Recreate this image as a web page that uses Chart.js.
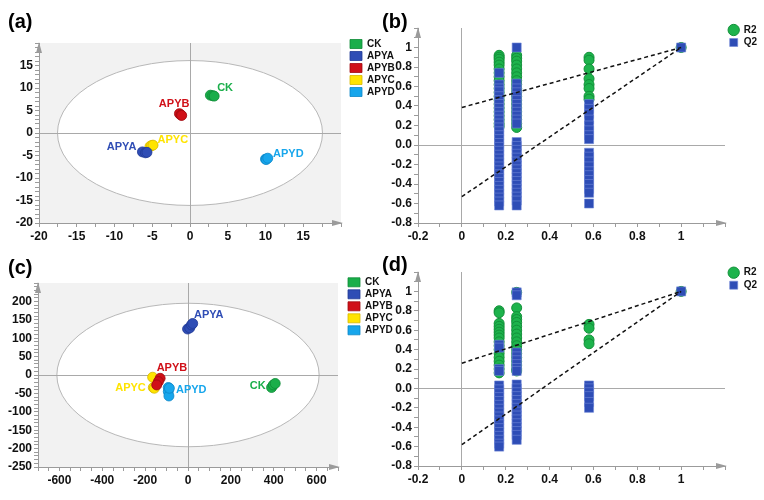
<!DOCTYPE html>
<html><head><meta charset="utf-8">
<script src="https://cdn.jsdelivr.net/npm/chart.js@4.4.1/dist/chart.umd.min.js"></script>
<style>
body{margin:0;background:#fff;width:764px;height:500px;position:relative;overflow:hidden}
canvas{position:absolute}
.lab{position:absolute;font:bold 20px "Liberation Sans",Arial,sans-serif;line-height:20px;color:#000}
</style></head><body>
<canvas id="ca" width="400" height="250" style="left:0;top:0"></canvas>
<canvas id="cb" width="382" height="250" style="left:382px;top:0"></canvas>
<canvas id="cc" width="400" height="250" style="left:0;top:250px"></canvas>
<canvas id="cd" width="382" height="250" style="left:382px;top:250px"></canvas>
<div class="lab" style="left:8px;top:11px">(a)</div>
<div class="lab" style="left:382px;top:11px">(b)</div>
<div class="lab" style="left:8px;top:257px">(c)</div>
<div class="lab" style="left:382px;top:254px">(d)</div>
<script>
// ---------- DATA ----------
const groups = ['CK', 'APYA', 'APYB', 'APYC', 'APYD'];

// (a) PCA scores [t1, t2]
const pcaA_CK   = [[2.7, 8.4], [3.0, 8.3], [3.2, 8.2]];
const pcaA_APYA = [[-6.3, -4.2], [-5.9, -4.4], [-5.7, -4.3]];
const pcaA_APYB = [[-1.4, 4.3], [-1.2, 4.0], [-1.1, 3.9]];
const pcaA_APYC = [[-5.3, -3.0], [-5.1, -2.8], [-4.9, -2.7]];
const pcaA_APYD = [[10.0, -5.8], [10.1, -5.9], [10.3, -5.6]];
const ellipseA = [17.55, 16.1];
const labelPosA = [[3.6, 10.1], [-7.1, -3.1], [-2.1, 6.5], [-4.3, -1.5], [11.0, -4.75]];
const tickA_X = [-20, -15, -10, -5, 0, 5, 10, 15];
const tickA_Y = [-20, -15, -10, -5, 0, 5, 10, 15];

// (c) PLS-DA / PCA scores [t1, t2]
const pcaC_CK   = [[390, -34], [398, -27], [407, -23]];
const pcaC_APYA = [[-2, 125], [8, 128], [16, 136], [22, 140]];
const pcaC_APYB = [[-130, -9], [-138, -18], [-146, -27]];
const pcaC_APYC = [[-165, -6], [-162, -34], [-157, -36]];
const pcaC_APYD = [[-92, -34], [-92, -45], [-89, -57], [-87, -36]];
const ellipseC = [612, 195];
const labelPosC = [[362, -30], [28, 164], [-75, 20], [-197, -35], [-56, -41]];
const tickC_X = [-600, -400, -200, 0, 200, 400, 600];
const tickC_Y = [-250, -200, -150, -100, -50, 0, 50, 100, 150, 200];

// permutation tests (b) and (d)
const permX = [0.17, 0.25, 0.58, 1];
const permB_R2 = [
  [0.92, 0.9, 0.88, 0.85, 0.82, 0.78, 0.74, 0.7, 0.66, 0.62, 0.58, 0.54, 0.5, 0.46, 0.42, 0.38, 0.34, 0.3, 0.26, 0.22, 0.19],
  [0.92, 0.89, 0.86, 0.82, 0.78, 0.74, 0.7, 0.66, 0.62, 0.58, 0.54, 0.5, 0.46, 0.42, 0.38, 0.34, 0.3, 0.26, 0.22, 0.18],
  [0.9, 0.87, 0.78, 0.68, 0.62, 0.58, 0.5, 0.47],
  [1.0]
];
const permB_Q2 = [
  [0.74, 0.62, 0.58, 0.55, 0.5, 0.46, 0.42, 0.38, 0.34, 0.3, 0.26, 0.22, 0.18, 0.14, 0.1, 0.06, 0.02, -0.02, -0.06, -0.1, -0.14, -0.18, -0.22, -0.26, -0.3, -0.34, -0.38, -0.42, -0.46, -0.5, -0.54, -0.58, -0.62],
  [1.0, 0.63, 0.58, 0.54, 0.5, 0.46, 0.42, 0.38, 0.34, 0.3, 0.26, 0.22, 0.03, -0.01, -0.05, -0.09, -0.13, -0.17, -0.21, -0.25, -0.29, -0.33, -0.37, -0.41, -0.45, -0.49, -0.53, -0.57, -0.62],
  [0.42, 0.37, 0.32, 0.26, 0.2, 0.15, 0.1, 0.06, -0.08, -0.12, -0.17, -0.22, -0.27, -0.31, -0.36, -0.4, -0.45, -0.49, -0.6],
  [1.0]
];
const permB_R2fit = [[0, 0.385], [1, 1]];
const permB_Q2fit = [[0, -0.53], [1, 1]];

const permD_R2 = [
  [0.8, 0.78, 0.67, 0.64, 0.61, 0.58, 0.55, 0.52, 0.48, 0.44, 0.4, 0.36, 0.32, 0.28, 0.24, 0.2, 0.16],
  [0.99, 0.83, 0.74, 0.71, 0.68, 0.64, 0.6, 0.56, 0.52, 0.48, 0.44, 0.4, 0.36, 0.32, 0.28, 0.24, 0.2, 0.18],
  [0.66, 0.62, 0.5, 0.46],
  [1.0]
];
const permD_Q2 = [
  [0.45, 0.42, 0.2, 0.18, 0.03, -0.01, -0.05, -0.09, -0.13, -0.17, -0.21, -0.25, -0.29, -0.33, -0.37, -0.41, -0.45, -0.49, -0.53, -0.57, -0.6],
  [0.99, 0.96, 0.37, 0.33, 0.29, 0.25, 0.21, 0.18, 0.04, 0.0, -0.04, -0.08, -0.12, -0.16, -0.2, -0.24, -0.28, -0.32, -0.36, -0.4, -0.44, -0.48, -0.53],
  [0.03, 0.0, -0.04, -0.08, -0.14, -0.2],
  [1.0]
];
const permD_R2fit = [[0, 0.26], [1, 1]];
const permD_Q2fit = [[0, -0.58], [1, 1]];

const permTickXVals = [-0.2, 0, 0.2, 0.4, 0.6, 0.8, 1];
const permTickXText = ['-0.2', '0', '0.2', '0.4', '0.6', '0.8', '1'];
const permTickYVals = [-0.8, -0.6, -0.4, -0.2, 0, 0.2, 0.4, 0.6, 0.8, 1];
const permTickYText = ['-0.8', '-0.6', '-0.4', '-0.2', '0.0', '0.2', '0.4', '0.6', '0.8', '1'];

// ---------- STYLE ----------
const FONT = '"Liberation Sans", Arial, Helvetica, sans-serif';
const AXIS_GRAY = '#9b9b9b';
const FILL = ['#1aae4a', '#2f4db5', '#d01018', '#ffe400', '#17a6ec'];
const EDGE = ['#0e8a36', '#213a95', '#a00a10', '#d6b800', '#0b86c8'];
const LABEL_ALIGN_A = ['left', 'right', 'center', 'left', 'left'];
const LABEL_ALIGN_C = ['right', 'left', 'center', 'right', 'left'];

function axis(pos, min, max, step, vals, texts, size) {
  return {
    type: 'linear', position: pos, min: min, max: max,
    afterFit: s => { if (pos === 'left') s.width = size; else s.height = size; },
    ticks: {
      stepSize: step, autoSkip: false, maxRotation: 0, minRotation: 0, padding: 2, color: '#111',
      font: { family: FONT, size: 12, weight: 'bold' },
      callback: v => { const i = vals.findIndex(t => Math.abs(t - v) < step / 100); return i < 0 ? '' : (texts ? texts[i] : String(vals[i])); }
    },
    grid: {
      color: c => (c.tick && Math.abs(c.tick.value) < step / 100) ? '#a9a9a9' : 'rgba(0,0,0,0)',
      tickColor: AXIS_GRAY, tickLength: 4, lineWidth: 1
    },
    border: { display: true, color: AXIS_GRAY, width: 1 }
  };
}

function framePlugin(ellipse) {
  return {
    id: 'frame',
    beforeDraw(chart) {
      if (!ellipse) return;
      const { ctx, chartArea: a, scales: { x, y } } = chart;
      ctx.save();
      ctx.fillStyle = '#f2f2f2';
      ctx.fillRect(a.left, a.top, a.right - a.left, a.bottom - a.top);
      const cx = x.getPixelForValue(0), cy = y.getPixelForValue(0);
      const rx = x.getPixelForValue(ellipse[0]) - cx, ry = cy - y.getPixelForValue(ellipse[1]);
      ctx.beginPath(); ctx.ellipse(cx, cy, rx, ry, 0, 0, Math.PI * 2);
      ctx.fillStyle = '#fff'; ctx.fill();
      ctx.strokeStyle = '#b8b8b8'; ctx.lineWidth = 1; ctx.stroke();
      ctx.restore();
    },
    afterDraw(chart) {
      const { ctx, chartArea: a } = chart;
      ctx.save();
      ctx.fillStyle = AXIS_GRAY;
      ctx.beginPath(); ctx.moveTo(a.left, a.top - 1); ctx.lineTo(a.left - 3, a.top + 10); ctx.lineTo(a.left + 3, a.top + 10); ctx.closePath(); ctx.fill();
      ctx.beginPath(); ctx.moveTo(a.right + 2, a.bottom); ctx.lineTo(a.right - 9, a.bottom - 3); ctx.lineTo(a.right - 9, a.bottom + 3); ctx.closePath(); ctx.fill();
      ctx.restore();
    }
  };
}

function legendAt(x, y) {
  return {
    id: 'legendAt',
    beforeDraw(chart) {
      const lg = chart.legend; if (!lg) return;
      lg.left = x; lg.right = x + 90; lg.width = 90;
      lg.top = y; lg.bottom = y + 120; lg.height = 120;
    }
  };
}

function labelPlugin(pos, aligns) {
  return {
    id: 'grpLabels',
    afterDatasetsDraw(chart) {
      const { ctx, scales: { x, y } } = chart;
      ctx.save();
      ctx.font = 'bold 11px ' + FONT;
      ctx.textBaseline = 'middle';
      groups.forEach((g, i) => {
        ctx.fillStyle = FILL[i];
        ctx.textAlign = aligns[i];
        ctx.fillText(g, x.getPixelForValue(pos[i][0]), y.getPixelForValue(pos[i][1]));
      });
      ctx.restore();
    }
  };
}

function pcaChart(id, sets, xr, yr, xStep, yStep, xt, yt, area, W, H, ellipse, labelPos, aligns, legendXY) {
  const datasets = groups.map((g, i) => ({
    label: g,
    data: sets[i].map(p => ({ x: p[0], y: p[1] })),
    backgroundColor: FILL[i], borderColor: EDGE[i], borderWidth: 0.8,
    pointRadius: 5, pointHoverRadius: 5
  }));
  return new Chart(document.getElementById(id), {
    type: 'scatter',
    data: { datasets },
    options: {
      responsive: false, animation: false, devicePixelRatio: 1, events: [],
      layout: { padding: { left: 0, top: area.top, right: W - area.right - 1, bottom: 0 } },
      scales: {
        x: axis('bottom', xr[0], xr[1], xStep, xt, null, H - area.bottom),
        y: axis('left', yr[0], yr[1], yStep, yt, null, area.left)
      },
      plugins: {
        tooltip: { enabled: false },
        legend: {
          display: true, position: 'right', align: 'start', maxWidth: 1,
          labels: { boxWidth: 12, boxHeight: 9, padding: 2, color: '#111', font: { family: FONT, size: 10, weight: 'bold' } }
        }
      }
    },
    plugins: [framePlugin(ellipse), labelPlugin(labelPos, aligns), legendAt(legendXY[0], legendXY[1])]
  });
}

function permChart(id, R2, Q2, R2fit, Q2fit, area, W, H, legendXY) {
  const pts = cols => cols.flatMap((col, i) => col.map(v => ({ x: permX[i], y: v })));
  const line = arr => arr.map(p => ({ x: p[0], y: p[1] }));
  const datasets = [
    { label: 'R2', data: pts(R2), pointStyle: 'circle', pointRadius: 5, pointHoverRadius: 5,
      backgroundColor: '#1db34c', borderColor: '#129039', borderWidth: 1, order: 2 },
    { label: 'Q2', data: pts(Q2), pointStyle: 'rect', pointRadius: 6.4, pointHoverRadius: 6.4,
      backgroundColor: '#2e4db6', borderColor: '#7088d6', borderWidth: 0.6, order: 1 },
    { label: 'R2 fit', data: line(R2fit), showLine: true, pointRadius: 0, borderColor: '#111',
      borderWidth: 1.5, borderDash: [4, 3], fill: false, order: 0 },
    { label: 'Q2 fit', data: line(Q2fit), showLine: true, pointRadius: 0, borderColor: '#111',
      borderWidth: 1.5, borderDash: [4, 3], fill: false, order: 0 }
  ];
  return new Chart(document.getElementById(id), {
    type: 'scatter',
    data: { datasets },
    options: {
      responsive: false, animation: false, devicePixelRatio: 1, events: [],
      layout: { padding: { left: 0, top: area.top, right: W - area.right - 1, bottom: 0 } },
      scales: {
        x: axis('bottom', -0.2, 1.2, 0.1, permTickXVals, permTickXText, H - area.bottom),
        y: axis('left', -0.8, 1.2, 0.1, permTickYVals, permTickYText, area.left)
      },
      plugins: {
        tooltip: { enabled: false },
        legend: {
          display: true, position: 'right', align: 'start', maxWidth: 1,
          labels: {
            usePointStyle: true, boxWidth: 10, boxHeight: 8, padding: 2.5, color: '#111',
            font: { family: FONT, size: 10, weight: 'bold' },
            filter: item => item.datasetIndex < 2,
            sort: (a, b) => a.datasetIndex - b.datasetIndex
          }
        }
      }
    },
    plugins: [framePlugin(null), legendAt(legendXY[0], legendXY[1])]
  });
}

pcaChart('ca', [pcaA_CK, pcaA_APYA, pcaA_APYB, pcaA_APYC, pcaA_APYD],
  [-20, 20], [-20, 20], 2.5, 1, tickA_X, tickA_Y,
  { left: 39, right: 341, top: 43, bottom: 223 }, 400, 250, ellipseA, labelPosA, LABEL_ALIGN_A, [348, 37]);

permChart('cb', permB_R2, permB_Q2, permB_R2fit, permB_Q2fit,
  { left: 36, right: 343, top: 28, bottom: 223 }, 382, 250, [344.2, 22.5]);

pcaChart('cc', [pcaC_CK, pcaC_APYA, pcaC_APYB, pcaC_APYC, pcaC_APYD],
  [-700, 700], [-250, 250], 50, 10, tickC_X, tickC_Y,
  { left: 38, right: 338, top: 33, bottom: 217 }, 400, 250, ellipseC, labelPosC, LABEL_ALIGN_C, [346, 25.3]);

permChart('cd', permD_R2, permD_Q2, permD_R2fit, permD_Q2fit,
  { left: 36, right: 343, top: 22, bottom: 216 }, 382, 250, [344.2, 15.2]);
</script>
</body></html>
